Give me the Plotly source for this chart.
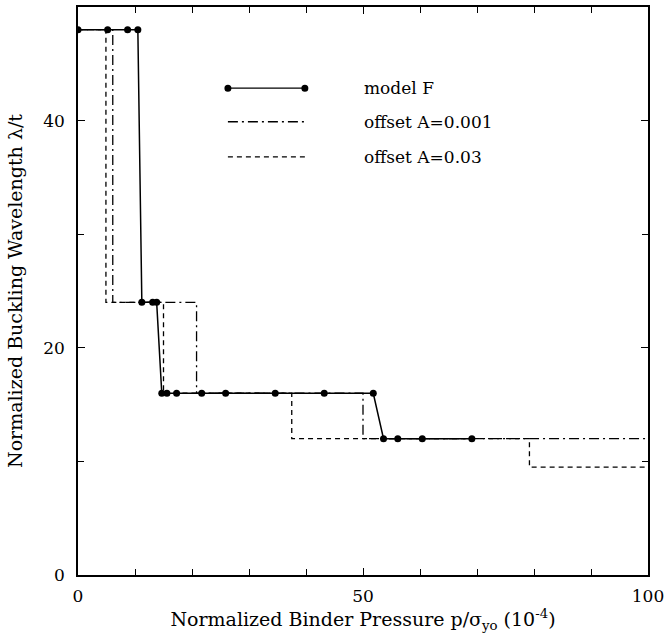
import plotly.graph_objects as go

# ---- data ----
model_x = [0, 5.2, 8.7, 10.5, 11.2, 13.1, 13.8, 14.7, 15.6, 17.3, 21.7, 25.9,
           34.6, 43.2, 51.8, 53.6, 56.1, 60.4, 69.1]
model_y = [48, 48, 48, 48, 24, 24, 24, 16, 16, 16, 16, 16,
           16, 16, 16, 12, 12, 12, 12]

offA1_x = [0, 6.1, 20.8, 50.0, 100]
offA1_y = [48, 24, 16, 12, 12]

offA3_x = [0, 4.9, 15.0, 37.5, 79.2, 100]
offA3_y = [48, 24, 16, 12, 9.5, 9.5]

series_names = ["model F", "offset A=0.001", "offset A=0.03"]
x_ticks = [0, 50, 100]
y_ticks = [0, 20, 40]

FONT = "DejaVu Serif"
DASHDOT = "10px,4px,2px,4px"
DASH = "5px,4px"

fig = go.Figure()
fig.add_trace(go.Scatter(x=offA3_x, y=offA3_y, mode="lines", line_shape="hv",
                         line=dict(color="black", width=1.3, dash=DASH),
                         name=series_names[2], showlegend=False))
fig.add_trace(go.Scatter(x=offA1_x, y=offA1_y, mode="lines", line_shape="hv",
                         line=dict(color="black", width=1.3, dash=DASHDOT),
                         name=series_names[1], showlegend=False))
fig.add_trace(go.Scatter(x=model_x, y=model_y, mode="lines+markers",
                         line=dict(color="black", width=1.5),
                         marker=dict(color="black", size=7),
                         name=series_names[0], showlegend=False))

# ---- hand-drawn legend (paper coordinates) ----
leg_x0, leg_x1, txt_x = 0.263, 0.398, 0.498
rows = [0.857, 0.798, 0.736]
dashes = ["solid", DASHDOT, DASH]
shapes = []
annotations = []
for name, yy, d in zip(series_names, rows, dashes):
    shapes.append(dict(type="line", xref="paper", yref="paper",
                       x0=leg_x0, x1=leg_x1, y0=yy, y1=yy,
                       line=dict(color="black", width=1.3, dash=d)))
    annotations.append(dict(text=name, xref="paper", yref="paper",
                            x=txt_x, y=yy, xanchor="left", yanchor="middle",
                            showarrow=False, font=dict(family=FONT, size=17, color="black")))
for xx in (leg_x0, leg_x1):
    shapes.append(dict(type="circle", xref="paper", yref="paper",
                       xsizemode="pixel", ysizemode="pixel",
                       xanchor=xx, yanchor=rows[0],
                       x0=-3.5, x1=3.5, y0=-3.5, y1=3.5,
                       fillcolor="black", line=dict(color="black", width=0)))

axis_common = dict(showgrid=False, zeroline=False, showline=True, linecolor="black",
                   linewidth=1.5, mirror="ticks", ticks="inside", ticklen=7,
                   tickcolor="black", tickwidth=1.2, ticklabeloverflow="allow",
                   automargin=False,
                   tickfont=dict(family=FONT, size=17, color="black"))

fig.update_layout(
    width=664, height=644,
    margin=dict(l=78, r=16, t=7, b=69),
    paper_bgcolor="white", plot_bgcolor="white",
    shapes=shapes, annotations=annotations,
    xaxis=dict(range=[0, 100], tickvals=x_ticks,
               minor=dict(dtick=10, ticks="inside", ticklen=6, tickcolor="black"),
               title=dict(text="Normalized Binder Pressure p/σ<sub>yo</sub> (10<sup>-4</sup>)",
                          font=dict(family=FONT, size=19, color="black"), standoff=8),
               ticklabelstandoff=5,
               **axis_common),
    yaxis=dict(range=[0, 50], tickvals=y_ticks,
               minor=dict(dtick=10, ticks="inside", ticklen=6, tickcolor="black"),
               title=dict(text="Normalized Buckling Wavelength λ/t",
                          font=dict(family=FONT, size=19, color="black"), standoff=16),
               ticklabelstandoff=8,
               **axis_common),
)

fig.write_html("out.html")
